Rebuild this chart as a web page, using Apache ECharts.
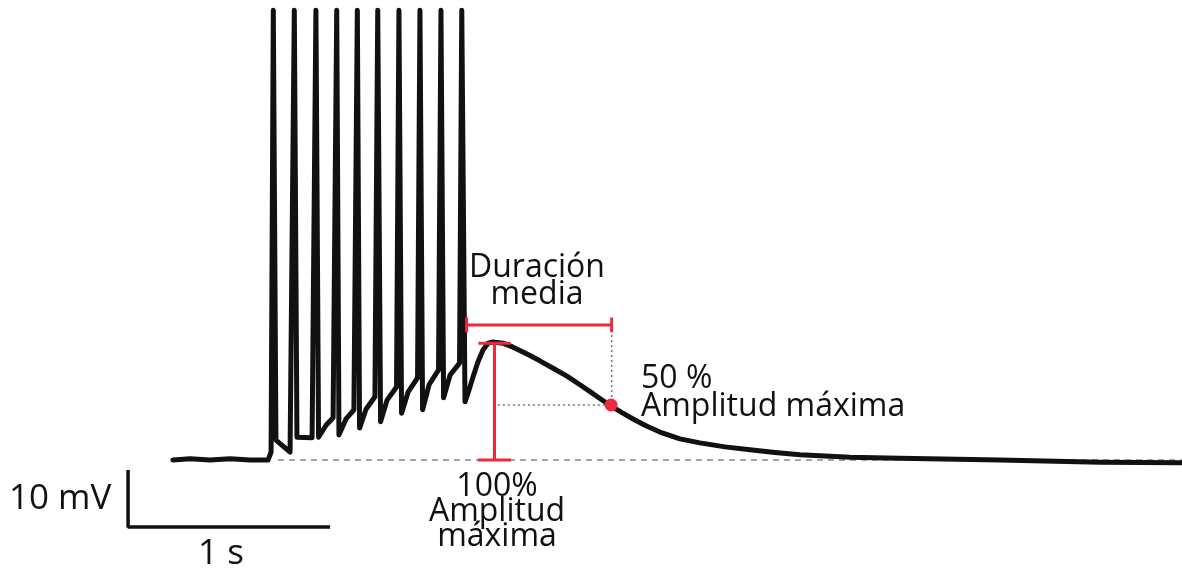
<!DOCTYPE html>
<html>
<head>
<meta charset="utf-8">
<script src="https://cdn.jsdelivr.net/npm/echarts@6/dist/echarts.min.js"></script>
<style>
  html, body { margin: 0; padding: 0; background: #fff; }
  #eChart { width: 1182px; height: 572px; }
</style>
</head>
<body>
<div id="eChart"></div>
<script>
// recorded trace: time (s) and membrane potential relative to rest (mV)
var traceTime = [
  0.856, 0.941, 1.040, 1.139, 1.238, 1.327, 1.342,
  1.353, 1.366, 1.436,
  1.457, 1.470, 1.545,
  1.564, 1.577, 1.614, 1.649,
  1.667, 1.678, 1.713, 1.752,
  1.769, 1.780, 1.812, 1.856,
  1.870, 1.884, 1.916, 1.963,
  1.975, 1.988, 2.020, 2.067,
  2.079, 2.092, 2.124, 2.171,
  2.183, 2.196, 2.228, 2.275,
  2.286, 2.302, 2.322, 2.342, 2.366, 2.391, 2.416, 2.441, 2.490, 2.540,
  2.609, 2.673, 2.738, 2.807, 2.871, 2.921, 2.970, 3.020, 3.079, 3.134,
  3.198, 3.267, 3.366, 3.465, 3.589, 3.713, 3.837, 3.960, 4.208, 4.455,
  4.950, 5.446, 5.851
];
var traceMv = [
  0, 0.2, 0, 0.2, 0, 0, 1.4,
  78.9, 3.5, 1.4,
  78.9, 4.0, 3.9,
  78.9, 4.0, 6.1, 7.4,
  78.9, 4.4, 7.2, 8.8,
  78.9, 5.6, 8.9, 11.1,
  78.9, 6.7, 10.5, 12.8,
  78.9, 8.2, 11.9, 14.4,
  78.9, 8.8, 13.2, 15.8,
  78.9, 10.9, 14.9, 17.0,
  78.9, 10.2, 12.3, 14.6, 17.2, 19.3, 20.5, 20.7, 20.5, 19.8,
  18.6, 17.4, 16.1, 14.7, 13.2, 12.0, 10.8, 9.6, 8.3, 7.2,
  6.0, 4.9, 3.7, 3.0, 2.3, 1.8, 1.3, 0.9, 0.5, 0.3,
  0, -0.4, -0.5
];

// annotation values
var restStart = 1.376, restEnd = 5.851;
var peakTime = 2.448, peakMv = 20.5;
var halfStart = 2.310, halfEnd = 3.028, halfBarMv = 23.7;
var halfPoint = [3.025, 9.65];
var halfGuideStart = 2.465;

// scale bars: 10 mV and 1 s
var barOrigin = [0.634, -11.75];
var barMv = 10, barSec = 1;

var red = '#ec2a3c';
var dotColor = '#6b7785';

function seg(points, color, width, type, z) {
  return {
    type: 'line',
    data: points,
    symbol: 'none',
    silent: true,
    animation: false,
    lineStyle: { color: color, width: width, type: type || 'solid', cap: 'butt' },
    z: z || 1
  };
}

var chart = echarts.init(document.getElementById('eChart'));

var traceData = traceTime.map(function (t, i) { return [t, traceMv[i]]; });

var series = [
  seg([[restStart, 0], [restEnd, 0]], '#888', 1.5, [6, 5]),
  seg([[halfStart, halfBarMv], [halfEnd, halfBarMv]], red, 3, null, 4),
  seg([[halfStart, halfBarMv - 1.3], [halfStart, halfBarMv + 1.3]], red, 3, null, 4),
  seg([[halfEnd, halfBarMv - 1.3], [halfEnd, halfBarMv + 1.3]], red, 3, null, 4),
  seg([[halfEnd, halfBarMv], [halfEnd, halfPoint[1]]], dotColor, 1.5, [2, 3]),
  seg([[halfGuideStart, halfPoint[1]], [halfEnd, halfPoint[1]]], dotColor, 1.5, [2, 3]),
  {
    type: 'line',
    data: traceData,
    symbol: 'none',
    silent: true,
    animation: false,
    lineStyle: { color: '#111', width: 5, join: 'round', cap: 'round' },
    z: 3
  },
  seg([[peakTime, 0], [peakTime, peakMv]], red, 3, null, 4),
  seg([[peakTime - 0.08, peakMv], [peakTime + 0.08, peakMv]], red, 3, null, 4),
  seg([[peakTime - 0.082, 0], [peakTime + 0.082, 0]], red, 3, null, 4),
  {
    type: 'scatter',
    data: [halfPoint],
    symbolSize: 13,
    silent: true,
    animation: false,
    itemStyle: { color: red, opacity: 1 },
    z: 5
  },
  seg([[barOrigin[0], barOrigin[1] + barMv], barOrigin, [barOrigin[0] + barSec, barOrigin[1]]], '#111', 3.5)
];

var font = '"Open Sans", "Noto Sans", sans-serif';

var option = {
  backgroundColor: '#fff',
  grid: { left: 0, right: 0, top: 0, bottom: 0 },
  xAxis: { type: 'value', min: 0, max: 5.8515, show: false },
  yAxis: { type: 'value', min: -19.65, max: 80.7, show: false },
  graphic: [
    { type: 'text', x: 537, y: 281, style: { text: 'Duración\nmedia', font: '32px ' + font, fill: '#111', align: 'center', verticalAlign: 'middle', lineHeight: 27 } },
    { type: 'text', x: 497, y: 512, style: { text: '100%\nAmplitud\nmáxima', font: '32px ' + font, fill: '#111', align: 'center', verticalAlign: 'middle', lineHeight: 25 } },
    { type: 'text', x: 641, y: 393, style: { text: '50 %\nAmplitud máxima', font: '32px ' + font, fill: '#111', align: 'left', verticalAlign: 'middle', lineHeight: 28 } },
    { type: 'text', x: 9, y: 499, style: { text: '10 mV', font: '35px ' + font, fill: '#111', align: 'left', verticalAlign: 'middle' } },
    { type: 'text', x: 221, y: 554, style: { text: '1 s', font: '35px ' + font, fill: '#111', align: 'center', verticalAlign: 'middle' } }
  ],
  series: series
};

chart.setOption(option);
</script>
</body>
</html>
